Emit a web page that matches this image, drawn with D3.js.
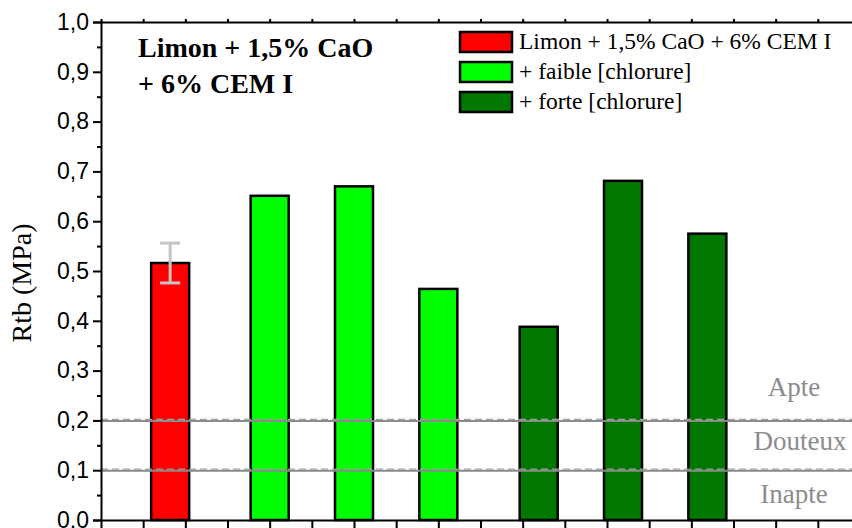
<!DOCTYPE html>
<html><head><meta charset="utf-8">
<script src="https://cdn.jsdelivr.net/npm/d3@7"></script>
<style>body{margin:0;background:#fff}svg{display:block}</style>
</head><body>
<svg id="c" width="852" height="528"></svg>
<script>
// ---- data ----
const barNames = ["ref", "faible1", "faible2", "faible3", "forte1", "forte2", "forte3"];
const barGroups = [0, 1, 1, 1, 2, 2, 2];
const barPositions = [0.82, 2.0, 3.0, 4.0, 5.19, 6.19, 7.19];
const barValues = [0.516, 0.651, 0.670, 0.464, 0.388, 0.681, 0.575];
const barErrors = [0.040, null, null, null, null, null, null];
const seriesLabels = ["Limon + 1,5% CaO + 6% CEM I", "+ faible [chlorure]", "+ forte [chlorure]"];
const seriesColors = ["#ff0000", "#00ff00", "#007800"];
const yTicks = [0, 0.1, 0.2, 0.3, 0.4, 0.5, 0.6, 0.7, 0.8, 0.9, 1.0];
const thresholds = [0.1, 0.2];
const zoneLabels = ["Inapte", "Douteux", "Apte"];
const zoneValues = [0.035, 0.14, 0.25];
const titleLines = ["Limon + 1,5% CaO", "+ 6% CEM I"];
const yLabel = "Rtb (MPa)";

// ---- layout ----
const SERIF = "'Liberation Serif', 'Times New Roman', serif";
const SANS = "'Liberation Sans', Arial, sans-serif";
const svg = d3.select("#c");
const L = 101, T = 22, B = 520, R = 860;
const x = d3.scaleLinear().domain([0, 9]).range([L, R]);
const y = d3.scaleLinear().domain([0, 1]).range([B, T]);
const barW = 38;
const fmt = d => d3.format(".1f")(d).replace(".", ",");

// bars
svg.append("g").selectAll("rect").data(barValues).join("rect")
  .attr("x", (d, i) => x(barPositions[i]) - barW / 2)
  .attr("y", d => y(d))
  .attr("width", barW)
  .attr("height", d => y(0) - y(d))
  .attr("fill", (d, i) => seriesColors[barGroups[i]])
  .attr("stroke", "#000").attr("stroke-width", 2.5);

// error bars
const eg = svg.append("g").attr("stroke", "#c4c4c4").attr("stroke-width", 3);
barErrors.forEach((e, i) => {
  if (e == null) return;
  const cx = x(barPositions[i]), v = barValues[i];
  eg.append("line").attr("x1", cx).attr("x2", cx).attr("y1", y(v + e)).attr("y2", y(v - e));
  [v + e, v - e].forEach(w => eg.append("line").attr("x1", cx - 10).attr("x2", cx + 10).attr("y1", y(w)).attr("y2", y(w)));
});

// threshold lines
thresholds.forEach(t => {
  svg.append("line").attr("x1", L).attr("x2", R).attr("y1", y(t) + 0.5).attr("y2", y(t) + 0.5)
    .attr("stroke", "#8a8a8a").attr("stroke-width", 2);
  svg.append("line").attr("x1", L).attr("x2", R).attr("y1", y(t) - 1).attr("y2", y(t) - 1)
    .attr("stroke", "#a0a0a0").attr("stroke-width", 1.2).attr("stroke-dasharray", "7,4");
});

// zone labels
svg.append("g").selectAll("text").data(zoneLabels).join("text")
  .attr("x", (d, i) => i === 1 ? 800 : 794)
  .attr("y", (d, i) => y(zoneValues[i]))
  .attr("text-anchor", "middle")
  .attr("font-family", SERIF)
  .attr("font-size", 27).attr("fill", "#8c8c8c")
  .text(d => d);

// y axis
const yAxis = svg.append("g").attr("transform", `translate(${L},0)`)
  .call(d3.axisLeft(y).tickValues(yTicks).tickFormat(fmt).tickSize(8).tickPadding(4));
yAxis.select(".domain").attr("stroke-width", 2);
yAxis.selectAll(".tick line").attr("stroke-width", 2);
yAxis.selectAll("text").attr("font-family", SANS).attr("font-size", 23).attr("fill", "#000");
const yMinor = svg.append("g").attr("transform", `translate(${L},0)`)
  .call(d3.axisLeft(y).tickValues(yTicks.slice(0, -1).map(v => v + 0.05)).tickFormat("").tickSize(4));
yMinor.select(".domain").remove();
yMinor.selectAll(".tick line").attr("stroke-width", 2);

// bottom / top axes
const xt = d3.range(0, 9.01, 0.5);
const xb = svg.append("g").attr("transform", `translate(0,${B})`)
  .call(d3.axisBottom(x).tickValues(xt).tickFormat("").tickSizeInner(8).tickSizeOuter(0));
xb.select(".domain").attr("stroke-width", 2);
xb.selectAll(".tick line").attr("stroke-width", 2);
const xtop = svg.append("g").attr("transform", `translate(0,${T})`)
  .call(d3.axisTop(x).tickValues(xt).tickFormat("").tickSizeInner(3).tickSizeOuter(0));
xtop.select(".domain").attr("stroke-width", 2);
xtop.selectAll(".tick line").attr("stroke-width", 2);

// y label
svg.append("text")
  .attr("transform", `translate(31,283) rotate(-90)`)
  .attr("text-anchor", "middle")
  .attr("font-family", SERIF)
  .attr("font-size", 28).text(yLabel);

// title
svg.append("g").selectAll("text").data(titleLines).join("text")
  .attr("x", 138).attr("y", (d, i) => 57 + i * 36)
  .attr("font-family", SERIF)
  .attr("font-weight", "bold").attr("font-size", 28)
  .text(d => d);

// legend
const lg = svg.append("g");
seriesLabels.forEach((s, i) => {
  const yy = 32 + i * 30;
  lg.append("rect").attr("x", 460).attr("y", yy).attr("width", 52).attr("height", 20)
    .attr("fill", seriesColors[i]).attr("stroke", "#000").attr("stroke-width", 2.5);
  lg.append("text").attr("x", 519).attr("y", yy + 17)
    .attr("font-family", SERIF)
    .attr("font-size", 23.5).text(s);
});
</script>
</body></html>
